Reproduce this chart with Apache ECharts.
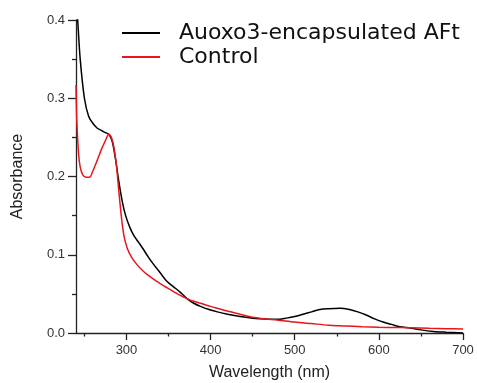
<!DOCTYPE html>
<html>
<head>
<meta charset="utf-8">
<script src="https://cdn.jsdelivr.net/npm/echarts@6/dist/echarts.min.js"></script>
<style>html,body{margin:0;padding:0;background:#fff}#c{width:477px;height:383px}</style>
</head>
<body>
<div id="c"></div>
<script>
const seriesNames = ['Auoxo3-encapsulated AFt', 'Control'];
const xTickLabels = [300, 400, 500, 600, 700];
const xMinorTicks = [250, 350, 450, 550, 650];
const aftX = [240,242,245,250,255,260,265,270,275,279,283,287,291,295,299,304,309,315,320,326,332,340,348,356,364,372,380,388,398,408,420,435,450,465,479,490,500,510,520,530,540,554,565,575,585,595,605,615,625,637,650,665,680,700];
const aftY = [0.43,0.40,0.35,0.30,0.277,0.268,0.262,0.259,0.256,0.254,0.245,0.222,0.193,0.168,0.150,0.135,0.124,0.115,0.107,0.097,0.088,0.077,0.066,0.059,0.052,0.044,0.038,0.034,0.030,0.027,0.024,0.021,0.019,0.0178,0.0175,0.019,0.021,0.024,0.027,0.030,0.031,0.0316,0.030,0.027,0.023,0.018,0.014,0.011,0.008,0.0065,0.004,0.002,0.001,0.0];
const ctrlX = [240,241,243,245,248,252,256,260,265,270,275,279,282,285,288,291,294,297,301,306,312,320,328,336,345,356,364,372,380,388,400,410,420,435,450,465,479,500,520,540,560,580,600,620,637,660,680,700];
const ctrlY = [0.317,0.27,0.23,0.212,0.202,0.199,0.199,0.207,0.220,0.234,0.246,0.254,0.25,0.238,0.215,0.18,0.148,0.124,0.108,0.097,0.088,0.079,0.072,0.066,0.060,0.053,0.048,0.044,0.0405,0.038,0.034,0.031,0.028,0.024,0.020,0.018,0.0166,0.014,0.012,0.010,0.009,0.008,0.0073,0.007,0.0068,0.006,0.0055,0.005];

const pair = (xs, ys) => xs.map((x, i) => [x, ys[i]]);
const chart = echarts.init(document.getElementById('c'));
const labelFont = 'Liberation Sans';
chart.setOption({
  animation: false,
  backgroundColor: '#fff',
  grid: { left: 76, right: 14, top: 20, bottom: 50, containLabel: false, outerBoundsMode: 'none' },
  legend: {
    orient: 'vertical', left: 117, top: 16, itemGap: 0,
    icon: 'rect', itemWidth: 38, itemHeight: 2,
    textStyle: { fontFamily: 'DejaVu Sans', fontSize: 22, color: '#111', lineHeight: 24, padding: [0,0,0,14] },
    data: seriesNames
  },
  xAxis: [{
    type: 'value', min: 240, max: 700,
    name: 'Wavelength (nm)', nameLocation: 'middle', nameGap: 32,
    nameTextStyle: { fontFamily: labelFont, fontSize: 16, color: '#222' },
    axisLine: { lineStyle: { color: '#222', width: 1.3 } },
    axisTick: { customValues: xTickLabels, length: 7, lineStyle: { color: '#222', width: 1.3 } },
    axisLabel: { customValues: xTickLabels, fontFamily: labelFont, fontSize: 13, color: '#333', margin: 11 },
    splitLine: { show: false }
  }, {
    type: 'value', min: 240, max: 700, position: 'bottom',
    axisLine: { show: false },
    axisTick: { customValues: xMinorTicks, length: 3.5, lineStyle: { color: '#222', width: 1.3 } },
    axisLabel: { show: false },
    splitLine: { show: false }
  }],
  yAxis: {
    type: 'value', min: 0, max: 0.4, interval: 0.1,
    name: 'Absorbance', nameLocation: 'middle', nameGap: 50,
    nameTextStyle: { fontFamily: labelFont, fontSize: 16, color: '#222' },
    axisLine: { show: true, lineStyle: { color: '#222', width: 1.3 } },
    axisTick: { show: true, length: 8, lineStyle: { color: '#222', width: 1.3 } },
    minorTick: { show: true, splitNumber: 2, length: 4, lineStyle: { color: '#222', width: 1.3 } },
    axisLabel: { fontFamily: labelFont, fontSize: 13, color: '#333', margin: 11, formatter: v => v.toFixed(1) },
    splitLine: { show: false }
  },
  series: [{
    name: seriesNames[0], type: 'line', data: pair(aftX, aftY), showSymbol: false, smooth: 0.3,
    lineStyle: { color: '#000', width: 1.5 }, itemStyle: { color: '#000' }, z: 3
  }, {
    name: seriesNames[1], type: 'line', data: pair(ctrlX, ctrlY), showSymbol: false, smooth: 0.3,
    lineStyle: { color: '#e8161b', width: 1.5 }, itemStyle: { color: '#e8161b' }, z: 4
  }]
});
</script>
</body>
</html>
